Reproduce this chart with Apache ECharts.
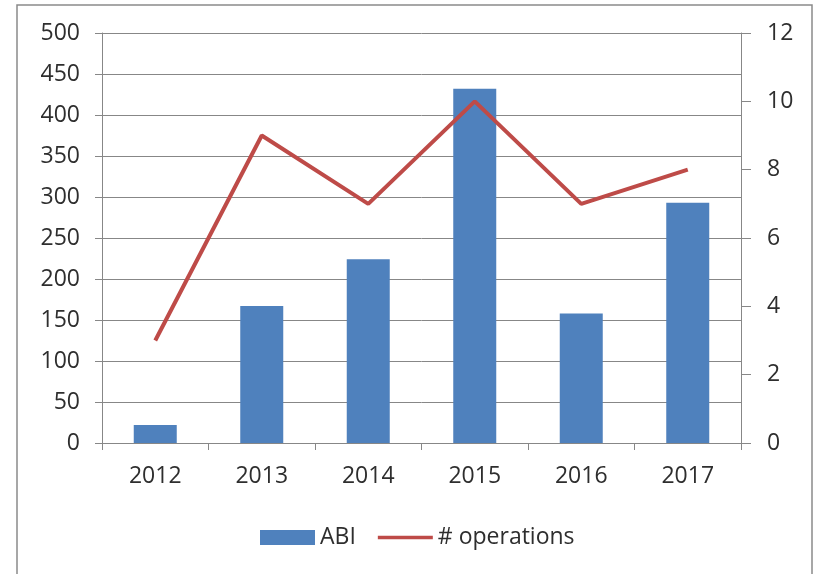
<!DOCTYPE html>
<html>
<head>
<meta charset="utf-8">
<script src="https://cdn.jsdelivr.net/npm/echarts@6/dist/echarts.min.js"></script>
<style>html,body{margin:0;padding:0;background:#fff;}#c{width:816px;height:574px;}</style>
</head>
<body>
<div id="c"></div>
<script>
const categories = ['2012', '2013', '2014', '2015', '2016', '2017'];
const abiValues = [22, 167, 224, 432, 158, 293];
const operationsValues = [3, 9, 7, 10, 7, 8];

const chart = echarts.init(document.getElementById('c'), null, {renderer: 'canvas'});
const font = '"Open Sans", "Liberation Sans", sans-serif';
const gridColor = '#878787';
const textColor = '#2e2e2e';

chart.setOption({
  animation: false,
  backgroundColor: '#ffffff',
  graphic: [{
    type: 'rect',
    shape: {x: 17, y: 5, width: 795, height: 620},
    style: {fill: 'none', stroke: '#8a8a8a', lineWidth: 1.5},
    silent: true
  }],
  grid: {left: 102, right: 75, top: 33, bottom: 131},
  legend: {
    left: 255,
    top: 521,
    itemWidth: 55,
    itemHeight: 15,
    itemGap: 22,
    textStyle: {fontFamily: font, fontSize: 23, color: textColor},
    data: [
      {name: 'ABI', icon: 'rect'},
      {name: '# operations', icon: 'path://M0,0H60V4H0Z'}
    ]
  },
  xAxis: {
    type: 'category',
    data: categories,
    boundaryGap: true,
    axisLine: {lineStyle: {color: gridColor, width: 1}},
    axisTick: {show: true, interval: 0, length: 7, lineStyle: {color: gridColor}},
    axisLabel: {fontFamily: font, fontSize: 23, color: textColor, margin: 22}
  },
  yAxis: [{
    type: 'value',
    min: 0, max: 500, interval: 50,
    axisLine: {show: true, lineStyle: {color: gridColor, width: 1}},
    axisTick: {show: true, length: 7, lineStyle: {color: gridColor}},
    splitLine: {show: true, lineStyle: {color: gridColor, width: 1}},
    axisLabel: {fontFamily: font, fontSize: 23, color: textColor, margin: 22}
  }, {
    type: 'value',
    min: 0, max: 12, interval: 2,
    position: 'right',
    axisLine: {show: true, lineStyle: {color: gridColor, width: 1}},
    axisTick: {show: true, length: 10, lineStyle: {color: gridColor}},
    splitLine: {show: false},
    axisLabel: {fontFamily: font, fontSize: 23, color: textColor, margin: 26}
  }],
  series: [{
    name: 'ABI',
    type: 'bar',
    data: abiValues,
    yAxisIndex: 0,
    barWidth: 43,
    itemStyle: {color: '#4F81BD'}
  }, {
    name: '# operations',
    type: 'line',
    data: operationsValues,
    yAxisIndex: 1,
    symbol: 'none',
    lineStyle: {color: '#BE4B48', width: 4},
    itemStyle: {color: '#BE4B48'},
    z: 3
  }]
});
</script>
</body>
</html>
